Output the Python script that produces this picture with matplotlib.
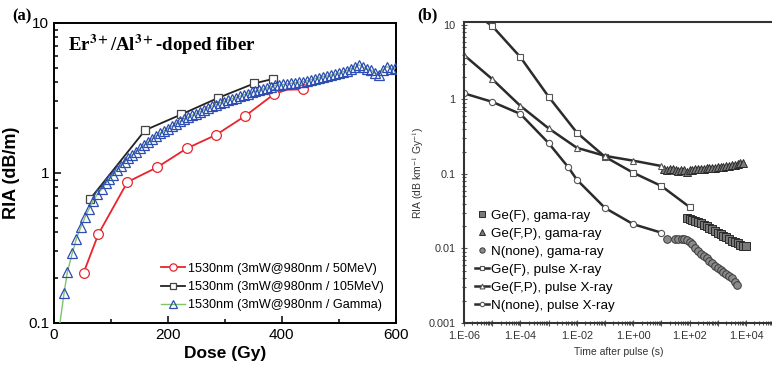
import matplotlib
matplotlib.use("Agg")
import matplotlib.pyplot as plt
from matplotlib.ticker import LogLocator, FixedLocator, FuncFormatter, NullFormatter, MultipleLocator
import numpy as np

plt.rcParams['font.family'] = ['Liberation Sans', 'DejaVu Sans']
plt.rcParams['mathtext.fontset'] = 'stix'

#------------- panel (a) data -------------
dose_50mev = [52, 78, 129, 181, 233, 285, 336, 387, 410, 438]
ria_50mev = [0.215, 0.39, 0.867, 1.085, 1.45, 1.79, 2.39, 3.35, 3.58, 3.59]

dose_105mev = [63, 160, 224, 289, 352, 384]
ria_105mev = [0.664, 1.92, 2.45, 3.16, 3.94, 4.21]

# first point is where the green line leaves the bottom axis (no marker)
dose_gamma = [10.5, 17.6, 23.4, 32, 39, 47, 54.5, 61.5, 68.5, 76, 84, 91, 97, 104, 111,
              117, 124, 130, 137, 144, 151, 158, 165, 172, 179, 186, 193, 200, 207,
              214, 221, 228, 235, 242, 249, 256, 263, 270, 277, 284, 291, 298, 305,
              312, 319, 326, 333, 340, 347, 354, 361, 368, 375, 382, 389, 396, 403,
              410, 417, 424, 431, 438, 445, 452, 459, 466, 473, 480, 487, 494, 501,
              508, 515, 522, 529, 536, 543, 550, 557, 564, 571, 578, 585, 592, 599]
ria_gamma = [0.1, 0.157, 0.217, 0.29, 0.36, 0.433, 0.505, 0.573, 0.647, 0.718, 0.778,
             0.85, 0.904, 0.966, 1.04, 1.11, 1.18, 1.25, 1.31, 1.38, 1.45, 1.53, 1.60,
             1.68, 1.76, 1.83, 1.90, 1.97, 2.04, 2.12, 2.20, 2.27, 2.34, 2.41, 2.48,
             2.55, 2.62, 2.70, 2.77, 2.84, 2.91, 2.98, 3.05, 3.11, 3.17, 3.23, 3.30,
             3.37, 3.44, 3.50, 3.56, 3.62, 3.68, 3.75, 3.82, 3.85, 3.88, 3.92, 3.95,
             3.98, 4.02, 4.05, 4.10, 4.17, 4.24, 4.30, 4.37, 4.42, 4.48, 4.55, 4.62,
             4.71, 4.80, 4.95, 5.10, 5.23, 5.05, 4.90, 4.84, 4.60, 4.50, 4.85, 5.09,
             4.95, 5.00]

#------------- panel (b) data -------------
t_gef_x = [1e-6, 1e-5, 1e-4, 1e-3, 1e-2, 1e-1, 1, 10, 100]
ria_gef_x = [18, 9.7, 3.7, 1.09, 0.36, 0.17, 0.104, 0.069, 0.036]

t_gefp_x = [1e-6, 1e-5, 1e-4, 1e-3, 1e-2, 1e-1, 1, 10]
ria_gefp_x = [3.95, 1.88, 0.82, 0.41, 0.225, 0.175, 0.151, 0.128]

t_n_x = [1e-6, 1e-5, 1e-4, 1e-3, 5e-3, 1e-2, 1e-1, 1, 10]
ria_n_x = [1.21, 0.93, 0.64, 0.26, 0.123, 0.084, 0.035, 0.0212, 0.0163]

t_gef_g = [80, 100, 126, 158, 200, 251, 316, 398, 501, 631, 794, 1000, 1259, 1585,
           1995, 2512, 3162, 3981, 5012, 6310, 7943, 10000]
ria_gef_g = [0.026, 0.025, 0.0243, 0.0235, 0.0226, 0.0218, 0.0208, 0.0198, 0.0189,
             0.018, 0.0171, 0.0163, 0.0155, 0.0148, 0.0141, 0.0135, 0.0128, 0.0122,
             0.0117, 0.0113, 0.0109, 0.0107]

t_gefp_g = [12, 16, 20, 25, 32, 40, 50, 63, 80, 100, 126, 158, 200, 251, 316, 398,
            501, 631, 794, 1000, 1259, 1585, 1995, 2512, 3162, 3981, 5012, 6310, 7943]
ria_gefp_g = [0.118, 0.112, 0.115, 0.117, 0.113, 0.110, 0.114, 0.112, 0.108, 0.112,
              0.114, 0.115, 0.116, 0.117, 0.118, 0.119, 0.12, 0.121, 0.122, 0.123,
              0.125, 0.126, 0.128, 0.13, 0.132, 0.134, 0.136, 0.139, 0.142]

t_n_g = [16, 30, 40, 52, 65, 80, 100, 126, 158, 200, 251, 316, 398, 501, 631, 794,
         1000, 1259, 1585, 1995, 2512, 3162, 3981, 4700]
ria_n_g = [0.0133, 0.0134, 0.0133, 0.0133, 0.0133, 0.0132, 0.0124, 0.0115, 0.0103,
           0.0093, 0.0085, 0.0079, 0.0074, 0.0069, 0.0063, 0.0059, 0.0055, 0.0052,
           0.0049, 0.0046, 0.0043, 0.0040, 0.0036, 0.0032]

#------------------ PLOT ------------------
fig = plt.figure(figsize=(7.72, 3.74), dpi=100)

# ---- (a)
ax = fig.add_axes([54/772, 1-322.7/374, 341.5/772, 300/374])
ax.plot(dose_gamma, ria_gamma, color='#7fc36b', linewidth=1.0, marker='^', markersize=7.5,
        mfc='none', mec='#2d4db3', mew=0.9, markevery=list(range(1, len(dose_gamma))),
        zorder=4, label='1530nm (3mW@980nm / Gamma)')
ax.plot(dose_105mev, ria_105mev, color='#222222', linewidth=1.3, marker='s', markersize=6,
        mfc='white', mec='#444444', mew=0.9, zorder=3, label='1530nm (3mW@980nm / 105MeV)')
ax.plot(dose_50mev, ria_50mev, color='#e8242c', linewidth=1.3, marker='o', markersize=7,
        mfc='white', mec='#e8242c', mew=0.9, markevery=[0, 1, 2, 3, 4, 5, 6, 7, 9],
        zorder=2, label='1530nm (3mW@980nm / 50MeV)')
ax.set_yscale('log')
ax.set_xlim(0, 600)
ax.set_ylim(0.1, 10)
ax.xaxis.set_major_locator(MultipleLocator(200))
ax.xaxis.set_minor_locator(MultipleLocator(100))
ax.yaxis.set_major_locator(FixedLocator([0.1, 1, 10]))
ax.yaxis.set_major_formatter(FuncFormatter(lambda v, p: '%g' % v))
ax.yaxis.set_minor_locator(LogLocator(base=10, subs=np.arange(2, 10), numticks=20))
ax.yaxis.set_minor_formatter(NullFormatter())
ax.tick_params(which='both', direction='in', labelsize=11, width=1.1)
ax.tick_params(which='major', length=5)
ax.tick_params(which='minor', length=3)
for s in ax.spines.values():
    s.set_linewidth(1.4)
ax.set_xlabel('Dose (Gy)', fontsize=12.5, fontweight='bold', labelpad=3)
ax.set_ylabel('RIA (dB/m)', fontsize=13, fontweight='bold', labelpad=6)
ax.text(0.04, 0.925, r'Er$^{\mathbf{3+}}$/Al$^{\mathbf{3+}}$-doped fiber', transform=ax.transAxes,
        family='Liberation Serif', fontweight='bold', fontsize=13.5, va='center')
h, l = ax.get_legend_handles_labels()
ax.legend(h[::-1], l[::-1], loc='lower right', frameon=False, fontsize=9.1,
          handlelength=1.9, handletextpad=0.25, labelspacing=0.5, markerscale=0.75,
          bbox_to_anchor=(1.0, 0.0), borderaxespad=0.5)
fig.text(12/772, 1-16/374, '(a)', family='Liberation Serif', fontweight='bold',
         fontsize=12, va='center')

# ---- (b)
dark = '#2b2b2b'
bx = fig.add_axes([464/772, 1-323/374, 310.2/772, 301/374])
bx.plot(t_gef_g, ria_gef_g, linestyle='none', marker='s', markersize=6,
        mfc='#7a7a7a', mec='#2a2a2a', mew=0.7, label='Ge(F), gama-ray')
bx.plot(t_gefp_g, ria_gefp_g, linestyle='none', marker='^', markersize=6,
        mfc='#7a7a7a', mec='#2a2a2a', mew=0.7, label='Ge(F,P), gama-ray')
bx.plot(t_n_g, ria_n_g, linestyle='none', marker='o', markersize=5.5,
        mfc='#8a8a8a', mec='#3a3a3a', mew=0.7, label='N(none), gama-ray')
bx.plot(t_gef_x, ria_gef_x, color=dark, linewidth=1.8, marker='s', markersize=4.5,
        mfc='white', mec='#555555', mew=0.8, label='Ge(F), pulse X-ray')
bx.plot(t_gefp_x, ria_gefp_x, color=dark, linewidth=1.8, marker='^', markersize=5,
        mfc='white', mec='#555555', mew=0.8, label='Ge(F,P), pulse X-ray')
bx.plot(t_n_x, ria_n_x, color=dark, linewidth=1.8, marker='o', markersize=4.5,
        mfc='white', mec='#555555', mew=0.8, label='N(none), pulse X-ray')
bx.set_xscale('log')
bx.set_yscale('log')
bx.set_xlim(1e-6, 1e5)
bx.set_ylim(0.001, 10.97)
bx.xaxis.set_major_locator(LogLocator(base=10, numticks=30))
bx.xaxis.set_major_formatter(FuncFormatter(
    lambda v, p: ('1.E%+03d' % int(round(np.log10(v)))) if int(round(np.log10(v))) % 2 == 0 else ''))
bx.xaxis.set_minor_locator(LogLocator(base=10, subs=np.arange(2, 10), numticks=30))
bx.xaxis.set_minor_formatter(NullFormatter())
bx.yaxis.set_major_locator(FixedLocator([0.001, 0.01, 0.1, 1, 10]))
bx.yaxis.set_major_formatter(FuncFormatter(lambda v, p: '%g' % v))
bx.yaxis.set_minor_locator(LogLocator(base=10, subs=np.arange(2, 10), numticks=30))
bx.yaxis.set_minor_formatter(NullFormatter())
bx.tick_params(which='both', direction='inout', labelsize=7.8, labelcolor='#333333',
               color='#555555', width=0.8)
bx.tick_params(which='major', length=5)
bx.tick_params(which='minor', length=3)
for s in bx.spines.values():
    s.set_linewidth(1.5)
    s.set_color('#333333')
bx.set_xlabel('Time after pulse (s)', fontsize=7.5, color='#333333', labelpad=4)
bx.set_ylabel(r'RIA (dB km$^{-1}$ Gy$^{-1}$)', fontsize=7.5, color='#333333', labelpad=2)
bx.legend(loc='lower left', frameon=False, fontsize=9.6, handlelength=1.0,
          handletextpad=0.15, labelspacing=0.42, bbox_to_anchor=(0.0, 0.0),
          borderaxespad=0.45, markerscale=0.7)
fig.text(417/772, 1-15/374, '(b)', family='Liberation Serif', fontweight='bold',
         fontsize=12, va='center')

plt.savefig('out.png', dpi=100)
